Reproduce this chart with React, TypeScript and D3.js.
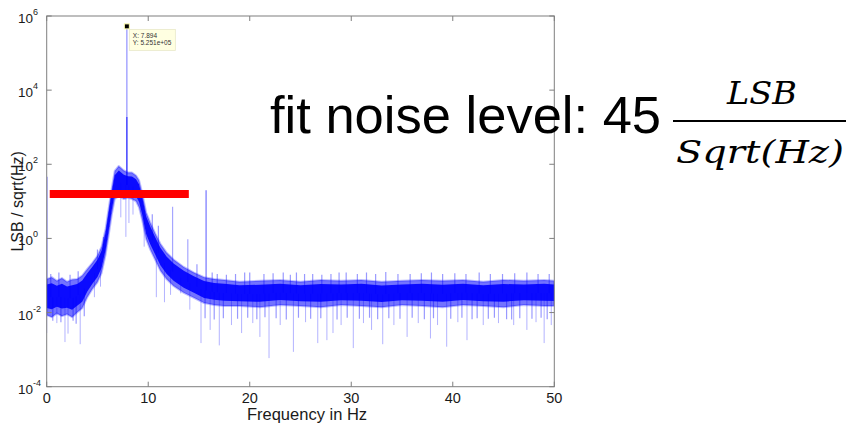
import React from 'react';
import * as d3 from 'd3';

const W = 848;
const H = 426;

const xTicks = [0, 10, 20, 30, 40, 50];
const yTickExps = [6, 4, 2, 0, -2, -4];

// dense noise band of the spectrum (Hz, LSB/sqrt(Hz))
const bandFreq = [0, 0.5, 1, 1.5, 2, 2.5, 3, 3.5, 4, 4.5, 5, 5.4, 5.8, 6.1, 6.4, 6.7, 7.1, 7.6, 8.0, 8.4, 8.8, 9.1, 9.4, 9.8, 10.2, 10.7, 11.2, 11.8, 12.5, 13.5, 14.5, 15.5, 16.5, 17.5, 19, 21, 23, 25, 27, 29, 31, 33, 35, 37, 39, 41, 43, 45, 47, 49, 50];
const bandUpper = [0.08, 0.09, 0.072, 0.085, 0.068, 0.078, 0.08, 0.1, 0.15, 0.22, 0.34, 0.6, 1.8, 6.3, 22, 66, 90, 68, 60, 60, 50, 37, 17, 5.0, 2.7, 1.35, 0.72, 0.42, 0.27, 0.17, 0.12, 0.09, 0.08, 0.076, 0.068, 0.072, 0.076, 0.068, 0.076, 0.072, 0.076, 0.068, 0.072, 0.076, 0.072, 0.076, 0.068, 0.076, 0.072, 0.076, 0.072];
const bandLower = [0.0085, 0.0075, 0.0095, 0.008, 0.009, 0.0075, 0.01, 0.013, 0.026, 0.043, 0.066, 0.115, 0.36, 1.2, 4.2, 11.5, 14, 11.5, 12.5, 11.5, 10, 6.8, 3.2, 0.95, 0.5, 0.26, 0.135, 0.08, 0.052, 0.034, 0.025, 0.018, 0.016, 0.015, 0.015, 0.014, 0.016, 0.015, 0.014, 0.016, 0.015, 0.014, 0.016, 0.015, 0.014, 0.016, 0.015, 0.014, 0.016, 0.015, 0.015];

// main peak (data tip)
const peakFreq = 7.894;
const peakValue = 5.251e5;
const peakSolidTop = 1900;

// isolated lines above the band [Hz, value]
const strongSpikes: [number, number][] = [[0, 46], [12.4, 7.1], [13.9, 0.95], [15.7, 20]];
// small upward noise spikes
const upSpikes: [number, number][] = [[0.4, 0.11], [1.2, 0.12], [2.3, 0.105], [3.1, 0.13], [5.0, 0.5], [5.6, 1.1], [10.4, 4.5], [11.0, 2.2], [14.8, 0.2], [16.3, 0.12], [16.8, 0.11], [17.7, 0.105], [18.6, 0.11], [19.5, 0.12], [20.0, 0.12], [21.4, 0.11], [22.3, 0.115], [23.3, 0.12], [24.0, 0.105], [24.6, 0.12], [25.4, 0.11], [26.2, 0.11], [27.1, 0.105], [28.0, 0.11], [28.8, 0.12], [29.5, 0.12], [30.6, 0.11], [31.5, 0.12], [32.4, 0.11], [33.4, 0.125], [34.6, 0.11], [35.8, 0.11], [36.9, 0.115], [37.9, 0.12], [39.0, 0.11], [40.2, 0.115], [41.3, 0.11], [42.6, 0.12], [43.7, 0.11], [44.9, 0.11], [46.1, 0.115], [47.3, 0.12], [48.4, 0.11], [49.5, 0.11]];
// downward noise spikes
const downSpikes: [number, number][] = [[0.0, 0.0028], [1.0, 0.0052], [1.8, 0.0016], [2.1, 0.0027], [3.3, 0.0014], [4.7, 0.026], [5.3, 0.05], [7.3, 3.7], [7.8, 1.1], [8.1, 2.6], [8.5, 4.4], [9.6, 0.6], [10.8, 0.026], [11.6, 0.019], [12.2, 0.03], [13.2, 0.033], [14.1, 0.012], [15.2, 0.0015], [16.1, 0.0034], [17.0, 0.0013], [18.2, 0.0046], [19.2, 0.0028], [20.3, 0.0052], [21.0, 0.0022], [21.9, 0.00059], [23.0, 0.0046], [24.3, 0.00087], [25.5, 0.0055], [26.7, 0.0015], [27.6, 0.0018], [28.2, 0.0028], [29.0, 0.0046], [30.2, 0.0011], [31.2, 0.0052], [32.0, 0.0034], [33.1, 0.0014], [34.2, 0.0046], [35.5, 0.0022], [36.6, 0.0052], [37.8, 0.002], [38.5, 0.0046], [39.4, 0.0012], [40.5, 0.0055], [41.4, 0.0018], [43.0, 0.0046], [44.5, 0.0052], [46.0, 0.0046], [47.3, 0.0034], [48.2, 0.0055], [49.0, 0.0015], [49.7, 0.0046]];
// shallow downward spikes just under the band
const minorDownSpikes: [number, number][] = [[0.6, 0.006], [1.4, 0.0055], [2.6, 0.006], [2.9, 0.005], [3.7, 0.008], [15.6, 0.007], [16.5, 0.0065], [17.4, 0.007], [18.8, 0.0068], [19.8, 0.0072], [20.7, 0.0066], [21.5, 0.0075], [22.6, 0.007], [23.6, 0.0065], [24.8, 0.0072], [26.0, 0.0068], [27.0, 0.007], [28.6, 0.0065], [29.6, 0.0072], [30.8, 0.0068], [31.8, 0.0072], [32.6, 0.0066], [33.7, 0.007], [34.8, 0.0068], [36.0, 0.0072], [37.2, 0.0066], [38.1, 0.007], [39.8, 0.0068], [40.9, 0.0072], [41.9, 0.0066], [42.4, 0.007], [43.5, 0.0068], [44.1, 0.0072], [45.3, 0.0066], [45.8, 0.0065], [46.6, 0.007], [47.8, 0.0068], [48.7, 0.0072], [49.3, 0.0066]];

// fitted noise level line
const fitLevel = 15.8;
const fitFrom = 0.3;
const fitTo = 14.0;

const axisColor = '#7f7f7f';
const blue = '#0000ff';

export default function App() {
  const x = d3.scaleLinear().domain([0, 50]).range([46.7, 554.3]);
  const y = d3.scaleLog().domain([1e-4, 1e6]).range([386.7, 16]);

  const band = bandFreq.map((f, i) => ({ f, hi: bandUpper[i], lo: bandLower[i] }));
  const area = d3.area<any>().x((d) => x(d.f)).y0((d) => y(d.lo)).y1((d) => y(d.hi));
  const bandD = area(band) || '';
  // darker core: inner part of the band, shrunk in log space
  const coreArea = d3.area<any>()
    .x((d) => x(d.f))
    .y0((d) => y(Math.pow(10, 0.8 * Math.log10(d.lo) + 0.2 * Math.log10(d.hi))))
    .y1((d) => y(Math.pow(10, 0.85 * Math.log10(d.hi) + 0.15 * Math.log10(d.lo))));
  const coreD = coreArea(band) || '';

  const interp = (arr: number[], f: number) => {
    const i = Math.max(1, Math.min(bandFreq.length - 1, d3.bisectLeft(bandFreq, f)));
    const f0 = bandFreq[i - 1], f1 = bandFreq[i];
    const t = f1 === f0 ? 0 : (f - f0) / (f1 - f0);
    return Math.pow(10, Math.log10(arr[i - 1]) * (1 - t) + Math.log10(arr[i]) * t);
  };
  const mid = (f: number) => Math.sqrt(interp(bandUpper, f) * interp(bandLower, f));

  const x0 = x.range()[0], x1 = x.range()[1];
  const yb = y.range()[0], yt = y.range()[1];
  const font = '"Liberation Sans", Arial, sans-serif';

  const px = x(peakFreq), py = y(peakValue);

  return (
    <div style={{ position: 'fixed', left: 0, top: 0, width: W, height: H, background: '#fff' }}>
      <svg width={W} height={H} style={{ display: 'block' }}>
        <rect x={0} y={0} width={W} height={H} fill="#fff" />
        <defs>
          <clipPath id="plot">
            <rect x={x0} y={yt} width={x1 - x0} height={yb - yt} />
          </clipPath>
        </defs>
        <g clipPath="url(#plot)">
          {downSpikes.map(([f, v], i) => (
            <line key={'d' + i} x1={x(f)} x2={x(f)} y1={y(mid(f))} y2={y(v)} stroke={blue} strokeOpacity={0.3} strokeWidth={1} />
          ))}
          {minorDownSpikes.map(([f, v], i) => (
            <line key={'m' + i} x1={x(f)} x2={x(f)} y1={y(mid(f))} y2={y(v)} stroke={blue} strokeOpacity={0.4} strokeWidth={1.2} />
          ))}
          {upSpikes.map(([f, v], i) => (
            <line key={'u' + i} x1={x(f)} x2={x(f)} y1={y(mid(f))} y2={y(v)} stroke={blue} strokeOpacity={0.4} strokeWidth={1.2} />
          ))}
          <path d={bandD} fill={blue} fillOpacity={0.55} stroke={blue} strokeOpacity={0.25} strokeWidth={2} strokeLinejoin="round" />
          <path d={coreD} fill={blue} fillOpacity={0.9} stroke="none" />
          {strongSpikes.map(([f, v], i) => (
            <line key={'s' + i} x1={x(f) + (f === 0 ? 0.5 : 0)} x2={x(f) + (f === 0 ? 0.5 : 0)} y1={y(mid(f))} y2={y(v)} stroke={blue} strokeOpacity={f === 15.7 ? 0.55 : 0.35} strokeWidth={1.2} />
          ))}
          <line x1={px} x2={px} y1={y(mid(peakFreq))} y2={py} stroke={blue} strokeOpacity={0.35} strokeWidth={1.5} />
          <line x1={px} x2={px} y1={y(mid(peakFreq))} y2={y(peakSolidTop)} stroke={blue} strokeOpacity={0.55} strokeWidth={1.5} />
        </g>

        {/* axes box */}
        <rect x={x0} y={yt} width={x1 - x0} height={yb - yt} fill="none" stroke={axisColor} strokeWidth={1} />
        {xTicks.map((t) => (
          <g key={'xt' + t}>
            <line x1={x(t)} x2={x(t)} y1={yb} y2={yb - 5} stroke={axisColor} />
            <line x1={x(t)} x2={x(t)} y1={yt} y2={yt + 5} stroke={axisColor} />
            <text x={x(t)} y={yb + 16} textAnchor="middle" fontFamily={font} fontSize={14.5} fill="#1a1a1a">{t}</text>
          </g>
        ))}
        {yTickExps.map((e) => {
          const yy = y(Math.pow(10, e));
          return (
            <g key={'yt' + e}>
              <line x1={x0} x2={x0 + 5} y1={yy} y2={yy} stroke={axisColor} />
              <line x1={x1} x2={x1 - 5} y1={yy} y2={yy} stroke={axisColor} />
              <text x={18} y={yy + 7} fontFamily={font} fontSize={13.5} fill="#1a1a1a">
                10<tspan fontSize={9} dy={-8}>{e}</tspan>
              </text>
            </g>
          );
        })}
        <text x={307} y={420} textAnchor="middle" fontFamily={font} fontSize={16.5} fill="#1a1a1a">Frequency in Hz</text>
        <text transform={`translate(23,${(yt + yb) / 2}) rotate(-90)`} textAnchor="middle" fontFamily={font} fontSize={16} fill="#1a1a1a">LSB / sqrt(Hz)</text>

        {/* fit level line */}
        <line x1={x(fitFrom)} x2={x(fitTo)} y1={y(fitLevel)} y2={y(fitLevel)} stroke="#ff0000" strokeWidth={8} />

        {/* data tip */}
        <rect x={px - 2.5} y={py - 2.5} width={5} height={5} fill="#000" stroke="#ffffb0" strokeWidth={1} />
        <rect x={px + 2.5} y={py + 3} width={46} height={21} fill="#ffffe1" stroke="#e8e8c8" strokeWidth={0.8} />
        <text x={px + 6} y={py + 11.5} fontFamily={font} fontSize={6.5} fill="#333">X: 7.894</text>
        <text x={px + 6} y={py + 19} fontFamily={font} fontSize={6.5} fill="#333">Y: 5.251e+05</text>

        {/* annotation */}
        <text x={270} y={133} fontFamily={font} fontSize={52.5} fill="#000">fit noise level: 45</text>
        <text x={762} y={104} textAnchor="middle" fontFamily='"DejaVu Serif", serif' fontStyle="italic" fontSize={31} fill="#000" textLength={70} lengthAdjust="spacingAndGlyphs">LSB</text>
        <line x1={673} x2={846} y1={121} y2={121} stroke="#000" strokeWidth={2} />
        <text x={760} y={163} textAnchor="middle" fontFamily='"DejaVu Serif", serif' fontStyle="italic" fontSize={31} fill="#000" textLength={168} lengthAdjust="spacingAndGlyphs">Sqrt(Hz)</text>
      </svg>
    </div>
  );
}
